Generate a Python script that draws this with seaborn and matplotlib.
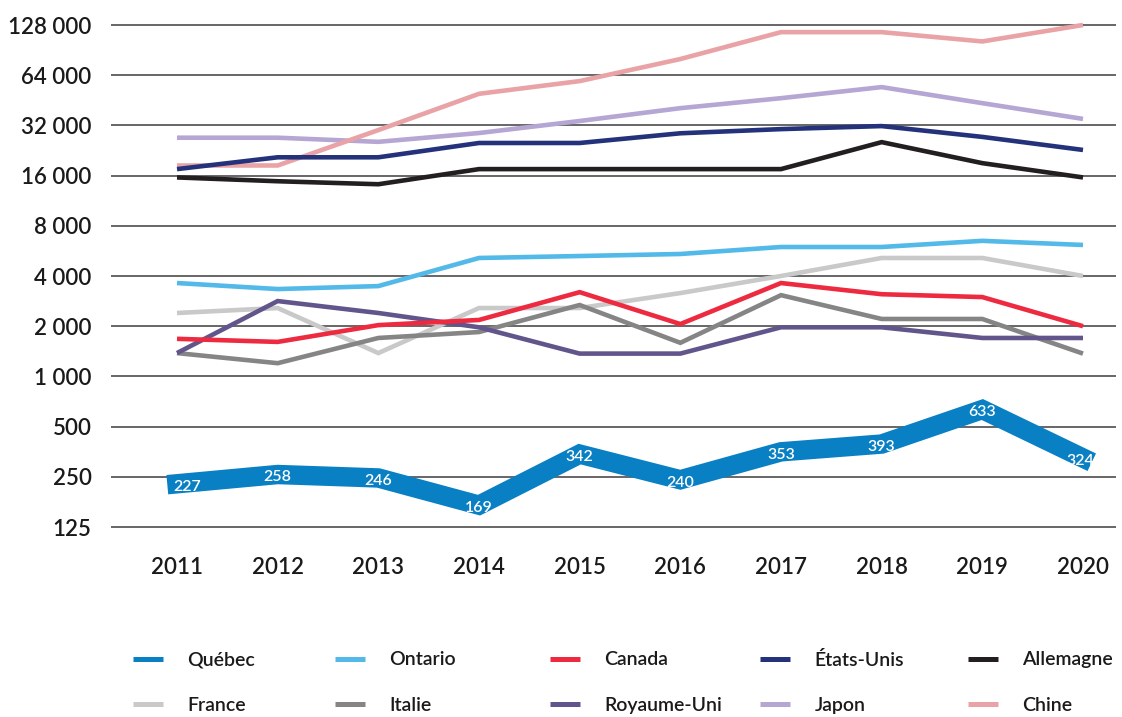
import matplotlib
matplotlib.use("Agg")
import matplotlib.pyplot as plt
from matplotlib.lines import Line2D
from matplotlib.ticker import FixedLocator, FixedFormatter, NullLocator
import seaborn as sns
import pandas as pd

years = [2011, 2012, 2013, 2014, 2015, 2016, 2017, 2018, 2019, 2020]
quebec = [227, 258, 246, 169, 342, 240, 353, 393, 633, 324]
ontario = [3630, 3340, 3480, 5130, 5270, 5420, 5970, 5970, 6500, 6140]
canada = [1680, 1610, 2030, 2180, 3200, 2060, 3630, 3110, 2990, 2000]
etats_unis = [17500, 20600, 20600, 25100, 25100, 28700, 30400, 31700, 27300, 22800]
allemagne = [15600, 14800, 14200, 17500, 17500, 17500, 17500, 25400, 19000, 15600]
france = [2400, 2570, 1380, 2570, 2570, 3160, 4000, 5130, 5130, 4000]
italie = [1380, 1200, 1700, 1845, 2680, 1590, 3070, 2210, 2210, 1370]
royaume_uni = [1380, 2830, 2400, 1970, 1370, 1370, 1970, 1970, 1700, 1700]
japon = [27000, 27000, 25500, 28800, 34000, 40600, 46600, 54300, 43500, 35000]
chine = [18400, 18400, 30000, 49500, 59000, 80000, 116000, 116000, 102000, 128000]

names = ["Québec", "Ontario", "Canada", "États-Unis", "Allemagne",
         "France", "Italie", "Royaume-Uni", "Japon", "Chine"]
series = [quebec, ontario, canada, etats_unis, allemagne,
          france, italie, royaume_uni, japon, chine]
colors = ["#0a80c4", "#52b9e9", "#ee2a40", "#23327a", "#231f20",
          "#c9c9c9", "#858585", "#62558c", "#b5a6d3", "#e9a2a6"]

ytick_vals = [125, 250, 500, 1000, 2000, 4000, 8000, 16000, 32000, 64000, 128000]
ytick_labels = ["125", "250", "500", "1 000", "2 000", "4 000", "8 000",
                "16 000", "32 000", "64 000", "128 000"]

rows = []
for n, s in zip(names, series):
    for y, v in zip(years, s):
        rows.append({"Pays": n, "Année": y, "Valeur": v})
df = pd.DataFrame(rows)
palette = dict(zip(names, colors))

sns.set_theme(style="white")
plt.rcParams["font.family"] = ["Lato", "DejaVu Sans"]

fig = plt.figure(figsize=(11.22, 7.17), dpi=100)
W, H = 1122, 717
ax = fig.add_axes([111 / W, 1 - 535 / H, (1116 - 111) / W, (535 - 15) / H])

others = df[df["Pays"] != "Québec"]
order_draw = ["Japon", "Chine", "États-Unis", "Allemagne", "Ontario",
              "France", "Italie", "Royaume-Uni", "Canada"]
for n in order_draw:
    sub = others[others["Pays"] == n]
    sns.lineplot(data=sub, x="Année", y="Valeur", color=palette[n], lw=3.3,
                 ax=ax, legend=False, errorbar=None,
                 solid_joinstyle="miter", solid_capstyle="butt")
qc = df[df["Pays"] == "Québec"]
sns.lineplot(data=qc, x="Année", y="Valeur", color=palette["Québec"], lw=14,
             ax=ax, legend=False, errorbar=None,
             solid_joinstyle="miter", solid_capstyle="projecting")

for i, (y, v) in enumerate(zip(years, quebec)):
    dx = 7 if i == 0 else (-2 if i == len(years) - 1 else 0)
    ax.annotate(str(v), (y, v), xytext=(dx, -2), textcoords="offset points",
                ha="center", va="center", color="white", fontsize=11.5,
                fontweight="semibold", zorder=5)

ax.set_yscale("log", base=2)
px_oct = 50.2
ax.set_ylim(125 * 2 ** (-(535 - 527) / px_oct), 128000 * 2 ** ((25 - 15) / px_oct))
px_year = (1083 - 177) / 9
ax.set_xlim(2011 - (177 - 111) / px_year, 2020 + (1116 - 1083) / px_year)

ax.yaxis.set_major_locator(FixedLocator(ytick_vals))
ax.yaxis.set_major_formatter(FixedFormatter(ytick_labels))
ax.yaxis.set_minor_locator(NullLocator())
ax.set_xticks(years)
ax.set_xticklabels([str(y) for y in years])
ax.tick_params(axis="y", length=0, pad=14, labelsize=16, labelcolor="#1a1a1a")
ax.tick_params(axis="x", length=0, pad=16, labelsize=16, labelcolor="#1a1a1a")
for lab in ax.get_xticklabels() + ax.get_yticklabels():
    lab.set_fontweight("semibold")
ax.set_xlabel("")
ax.set_ylabel("")
ax.grid(axis="y", color="#3d3d3d", lw=1.1)
ax.grid(axis="x", visible=False)
ax.set_axisbelow(True)
for sp in ax.spines.values():
    sp.set_visible(False)

col_x = [133, 335, 550, 760, 968]
for c in range(5):
    hs = [Line2D([0], [0], color=colors[c], lw=3.6, solid_capstyle="butt"),
          Line2D([0], [0], color=colors[c + 5], lw=3.6, solid_capstyle="butt")]
    leg = fig.legend(hs, [names[c], names[c + 5]], loc="center left",
                     bbox_to_anchor=(col_x[c] / W, 1 - 682.5 / H),
                     frameon=False, fontsize=14, handlelength=1.55,
                     handletextpad=1.25, labelspacing=1.45,
                     borderpad=0, borderaxespad=0)
    for t in leg.get_texts():
        t.set_fontweight("semibold")
        t.set_color("#1a1a1a")

fig.savefig("out.png", dpi=100)
